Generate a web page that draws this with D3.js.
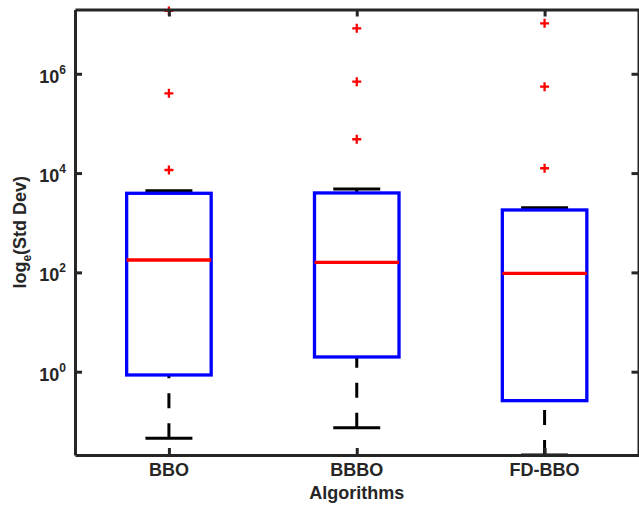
<!DOCTYPE html>
<html>
<head>
<meta charset="utf-8">
<script src="https://cdn.jsdelivr.net/npm/d3@7"></script>
<style>
  body { margin: 0; background: #fff; }
  text { font-family: "Liberation Sans", Arial, sans-serif; font-weight: bold; fill: #262626; }
</style>
</head>
<body>
<svg id="chart" width="639" height="505"></svg>
<script>
const algorithms = ["BBO", "BBBO", "FD-BBO"];
const lowerCap = [0.0456, 0.0745, 0.021];
const q1 = [0.859, 1.98, 0.261];
const median = [177.8, 159.6, 95.9];
const q3 = [3917, 3981, 1807];
const upperCap = [4426, 4786, 2009];
const outliers = [
    [11535, 404600, 1.84e7],
    [47970, 693000, 8.24e6],
    [12500, 549500, 1.04e7]
];
const yTicks = [1, 100, 1e4, 1e6];
const yTickExp = ["0", "2", "4", "6"];

const margin = { left: 75, right: 0.5, top: 9.5, bottom: 50 };
const width = 639, height = 505;
const svg = d3.select("#chart");

const x = d3.scaleLinear().domain([0.5, 3.5]).range([margin.left, width - margin.right]);
const y = d3.scaleLog().domain([0.021, 1.97e7]).range([height - margin.bottom, margin.top]);

const boxW = 0.45, capW = 0.25;

// whiskers (dashed, drawn from cap towards box)
algorithms.forEach((a, i) => {
    const cx = x(i + 1);
    svg.append("line")
        .attr("x1", cx).attr("x2", cx)
        .attr("y1", y(lowerCap[i])).attr("y2", y(median[i]))
        .attr("stroke", "#000").attr("stroke-width", 3)
        .attr("stroke-dasharray", "15,15");
    svg.append("line")
        .attr("x1", cx).attr("x2", cx)
        .attr("y1", y(upperCap[i])).attr("y2", y(median[i]))
        .attr("stroke", "#000").attr("stroke-width", 3)
        .attr("stroke-dasharray", "15,15");
    // caps
    [lowerCap[i], upperCap[i]].forEach(v => {
        svg.append("line")
            .attr("x1", x(i + 1 - capW / 2)).attr("x2", x(i + 1 + capW / 2))
            .attr("y1", y(v)).attr("y2", y(v))
            .attr("stroke", "#000").attr("stroke-width", 3);
    });
});

// boxes
svg.selectAll("rect.box")
    .data(algorithms)
    .enter().append("rect")
    .attr("class", "box")
    .attr("x", (d, i) => x(i + 1 - boxW / 2))
    .attr("width", x(1 + boxW) - x(1))
    .attr("y", (d, i) => y(q3[i]))
    .attr("height", (d, i) => y(q1[i]) - y(q3[i]))
    .attr("fill", "#fff")
    .attr("stroke", "#0000ff")
    .attr("stroke-width", 3.3);

// medians
svg.selectAll("line.median")
    .data(algorithms)
    .enter().append("line")
    .attr("class", "median")
    .attr("x1", (d, i) => x(i + 1 - boxW / 2))
    .attr("x2", (d, i) => x(i + 1 + boxW / 2))
    .attr("y1", (d, i) => y(median[i]))
    .attr("y2", (d, i) => y(median[i]))
    .attr("stroke", "#ff0000")
    .attr("stroke-width", 3.3);

// outliers
outliers.forEach((arr, i) => {
    arr.forEach(v => {
        const cx = x(i + 1), cy = y(v);
        svg.append("path")
            .attr("d", `M${cx - 4.5},${cy}H${cx + 4.5}M${cx},${cy - 4.5}V${cy + 4.5}`)
            .attr("stroke", "#ff0000").attr("stroke-width", 2.3);
    });
});

// axes frame with inward ticks
const axisStyle = g => {
    g.select(".domain").attr("stroke", "#262626").attr("stroke-width", 3);
    g.selectAll(".tick line").attr("stroke", "#262626").attr("stroke-width", 3);
};
svg.append("g")
    .attr("transform", `translate(${margin.left},0)`)
    .call(d3.axisLeft(y).tickValues(yTicks).tickSize(-7).tickSizeOuter(0).tickFormat(""))
    .call(axisStyle);
svg.append("g")
    .attr("transform", `translate(${width - margin.right},0)`)
    .call(d3.axisRight(y).tickValues(yTicks).tickSize(-7).tickSizeOuter(0).tickFormat(""))
    .call(axisStyle);
svg.append("g")
    .attr("transform", `translate(0,${height - margin.bottom})`)
    .call(d3.axisBottom(x).tickValues([1, 2, 3]).tickSize(-7).tickSizeOuter(0).tickFormat(""))
    .call(axisStyle);
svg.append("g")
    .attr("transform", `translate(0,${margin.top})`)
    .call(d3.axisTop(x).tickValues([1, 2, 3]).tickSize(-7).tickSizeOuter(0).tickFormat(""))
    .call(axisStyle);

// y tick labels
yTicks.forEach((t, i) => {
    const txt = svg.append("text")
        .attr("x", margin.left - 9)
        .attr("y", y(t) + 9)
        .attr("text-anchor", "end")
        .attr("font-size", 18);
    txt.append("tspan").text("10");
    txt.append("tspan").attr("font-size", 12).attr("dy", -9).text(yTickExp[i]);
});

// x tick labels
svg.selectAll("text.xlab")
    .data(algorithms)
    .enter().append("text")
    .attr("class", "xlab")
    .attr("x", (d, i) => x(i + 1))
    .attr("y", height - margin.bottom + 21)
    .attr("text-anchor", "middle")
    .attr("font-size", 18)
    .text(d => d);

svg.append("text")
    .attr("x", x(2))
    .attr("y", 499)
    .attr("text-anchor", "middle")
    .attr("font-size", 18)
    .text("Algorithms");

const yl = svg.append("text")
    .attr("transform", `translate(26,${(margin.top + height - margin.bottom) / 2}) rotate(-90)`)
    .attr("text-anchor", "middle")
    .attr("font-size", 18);
yl.append("tspan").text("log");
yl.append("tspan").attr("font-size", 12).attr("dy", 5).text("e");
yl.append("tspan").attr("dy", -5).text("(Std Dev)");
</script>
</body>
</html>
